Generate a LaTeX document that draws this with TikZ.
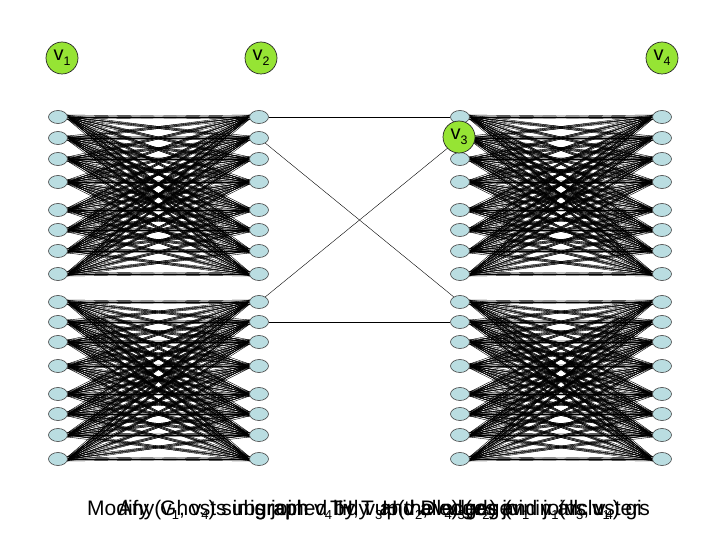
\documentclass[tikz,border=0pt]{standalone}
\usepackage{fontspec}
\setmainfont{Liberation Sans}
\usetikzlibrary{shapes.geometric,backgrounds}

\definecolor{vertexfill}{RGB}{186,221,225}
\definecolor{labelgreen}{RGB}{150,228,52}
\newcommand{\vsub}[1]{\raisebox{-0.45ex}{\fontsize{0.62em}{0.62em}\selectfont #1}}

\begin{document}
\begin{tikzpicture}[
    x=1pt, y=-1pt,
    vert/.style={ellipse, draw=black!75, fill=vertexfill, line width=0.6pt,
      minimum width=19pt, minimum height=13pt, inner sep=0pt},
    vlab/.style={circle, draw=black!85, fill=labelgreen, line width=0.7pt,
      minimum size=32pt, inner sep=0pt, font=\fontsize{20}{20}\selectfont},
    link/.style={line width=0.4pt},
    caption/.style={anchor=base west, inner sep=0pt,
      font=\fontsize{21}{21}\selectfont},
  ]
  \useasboundingbox (0,0) rectangle (720,540);

  %% ---- the four columns of vertices ------------------------------------
  \foreach \r/\y in {1/117,2/138,3/159,4/182,5/210,6/230,7/251,8/274,
                     9/302,10/322,11/342,12/366,13/394,14/414,15/435,16/459}
    \foreach \c/\x in {1/58,2/259,3/460,4/662}
      \node[vert] (n\c-\r) at (\x,\y) {};

  %% ---- complete bipartite blocks, drawn behind the vertices ------------
  \begin{pgfonlayer}{background}
    \foreach \l/\rr in {1/2,3/4}
      \foreach \g in {0,8}
        \foreach \i in {1,...,8}
          \foreach \j in {1,...,8}
            \foreach \a in {-12,0,12} {
              \pgfmathtruncatemacro{\p}{\g+\i}
              \pgfmathtruncatemacro{\q}{\g+\j}
              \pgfmathsetmacro{\b}{180-\a}
              \draw[link] (n\l-\p.east) -- (n\rr-\q.\b);
              \draw[link] (n\l-\p.\a) -- (n\rr-\q.west);
            }

    %% ---- links between the middle columns ------------------------------
    \draw[link] (n2-1) -- (n3-1);
    \draw[link] (n2-2) -- (n3-9);
    \draw[link] (n2-9) -- (n3-2);
    \draw[link] (n2-10) -- (n3-10);
  \end{pgfonlayer}

  %% ---- cluster labels ---------------------------------------------------
  \node[vlab] (v1) at (62,58)  {v\vsub{1}};
  \node[vlab] (v2) at (261,58) {v\vsub{2}};
  \node[vlab] (v3) at (459,137) {v\vsub{3}};
  \node[vlab] (v4) at (662,58) {v\vsub{4}};

  %% ---- overlaid caption lines -------------------------------------------
  \node[caption] (capA) at (87,515)  {Modify};
  \node[caption] (capB) at (118,515) {Any(v\vsub{1}, v\vsub{4}) subgraph};
  \node[caption] (capC) at (160,515) {Ghosts in graph v\vsub{4} H, v\vsub{3}H(v\vsub{2}, v\vsub{4}) edge};
  \node[caption] (capD) at (250,515) {is joined by T and D edges (v\vsub{1} in all};
  \node[caption] (capE) at (330,515) {Tidy up the edges and joins v\vsub{1}};
  \node[caption] (capF) at (420,515) {all v\vsub{3}(v\vsub{2}) join v\vsub{1}(v\vsub{3}, v\vsub{4}) gi};
  \node[caption, anchor=base east] (capG) at (650,515) {clusters};
\end{tikzpicture}
\end{document}
